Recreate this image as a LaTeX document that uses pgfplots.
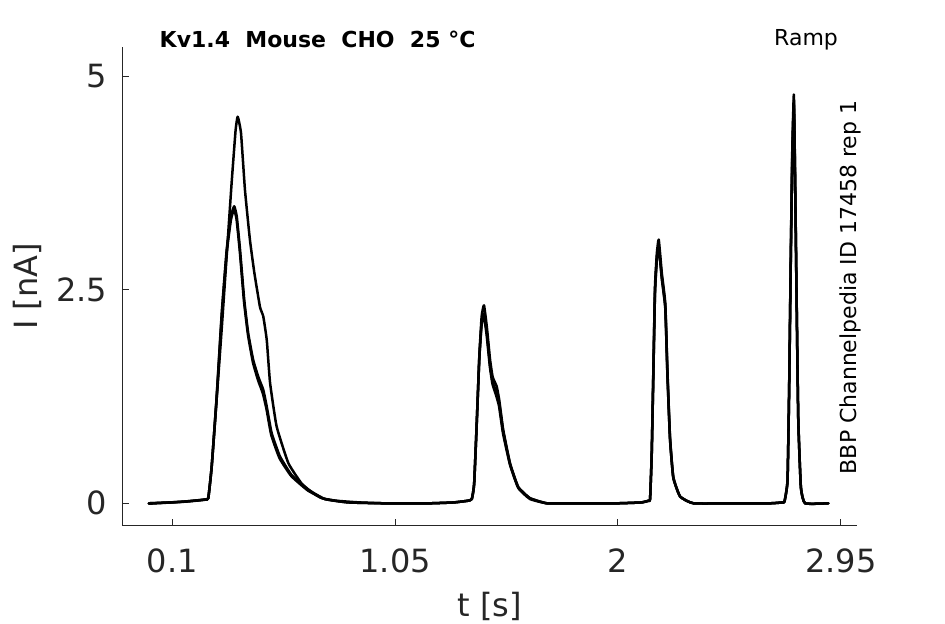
\documentclass[border=0pt]{standalone}
\usepackage{pgfplots}
\pgfplotsset{compat=1.18}
\usepackage{fontspec}
\setmainfont{DejaVu Sans}
\definecolor{axgray}{HTML}{262626}

\begin{document}
\begin{tikzpicture}
\useasboundingbox (0,0) rectangle (472.5pt,312pt);
\begin{axis}[
  at={(61.15pt,49pt)}, anchor=south west,
  scale only axis, width=367.2pt, height=239.65pt,
  xmin=-0.113, xmax=3.018, ymin=-0.266, ymax=5.35,
  axis x line*=bottom, axis y line*=left,
  axis line style={axgray, line width=0.5pt, -},
  xtick={0.1,1.05,2,2.95},
  ytick={0,2.5,5},
  /pgf/number format/assume math mode=true,
  tick align=inside, major tick length=3.5pt,
  tick style={axgray, line width=0.5pt},
  ticklabel style={font=\fontsize{16}{19}\selectfont, text=axgray},
  xticklabel style={anchor=north, inner sep=0pt, yshift=-11.15pt},
  yticklabel style={anchor=east, inner sep=0pt, xshift=-7.5pt},
  xlabel={t [s]}, ylabel={I [nA]},
  label style={font=\fontsize{16}{19}\selectfont, text=axgray, inner sep=0pt},
  xlabel style={at={(axis description cs:0.5,-0.1892)}, anchor=base},
  ylabel style={at={(axis description cs:-0.1291,0.5)}, anchor=center},
  cycle list={{black, no markers}},
  every axis plot post/.append style={black, line width=1.25pt, line join=round, line cap=round, smooth, tension=0.25},
]
% trace A (largest first peak)
\addplot coordinates {
(0,0.0) (0.05,0.005) (0.10,0.012) (0.15,0.02) (0.20,0.033) (0.24,0.045) (0.2535,0.06)
(0.268,0.43) (0.289,1.21) (0.311,2.05) (0.332,2.90) (0.353,3.75) (0.370,4.37) (0.379,4.53)
(0.393,4.34) (0.410,3.67) (0.431,3.09) (0.450,2.70) (0.474,2.30) (0.488,2.19) (0.503,1.91)
(0.517,1.41) (0.545,0.90) (0.595,0.47) (0.652,0.23) (0.70,0.12) (0.737,0.06) (0.80,0.03)
(0.90,0.01) (1.00,0.0) (1.10,0.0) (1.20,0.0) (1.30,0.01) (1.36,0.03) (1.377,0.05)
(1.387,0.23) (1.398,0.94) (1.409,1.72) (1.419,2.19) (1.429,2.32) (1.441,2.07) (1.455,1.68)
(1.466,1.48) (1.483,1.37) (1.494,1.21) (1.511,0.86) (1.540,0.47) (1.575,0.19) (1.625,0.06)
(1.697,0.0) (1.80,0.0) (1.90,0.0) (2.00,0.0) (2.10,0.01) (2.13,0.03) (2.137,0.05)
(2.144,0.59) (2.151,1.56) (2.158,2.54) (2.166,2.93) (2.174,3.09) (2.187,2.70) (2.202,2.34)
(2.211,1.56) (2.222,0.78) (2.236,0.31) (2.265,0.08) (2.322,0.0) (2.50,0.0) (2.65,0.0)
(2.70,0.01) (2.710,0.02) (2.723,0.27) (2.730,1.37) (2.737,2.93) (2.743,4.10) (2.750,4.79)
(2.755,3.91) (2.763,2.15) (2.769,0.98) (2.780,0.19) (2.798,0.0) (2.897,0.0)
};
% trace B
\addplot coordinates {
(0,-0.005) (0.05,0.003) (0.10,0.01) (0.15,0.018) (0.20,0.03) (0.24,0.042) (0.2535,0.06)
(0.268,0.43) (0.289,1.24) (0.311,2.23) (0.332,2.97) (0.350,3.36) (0.364,3.48) (0.375,3.36)
(0.389,2.97) (0.407,2.38) (0.424,1.99) (0.445,1.68) (0.467,1.48) (0.488,1.33) (0.503,1.13)
(0.524,0.82) (0.559,0.55) (0.609,0.33) (0.680,0.16) (0.751,0.05) (0.85,0.01) (1.00,0.0)
(1.10,0.0) (1.20,0.0) (1.30,0.01) (1.36,0.03) (1.377,0.05)
(1.387,0.23) (1.398,0.94) (1.409,1.70) (1.419,2.12) (1.429,2.22) (1.441,2.00) (1.455,1.62)
(1.466,1.42) (1.480,1.31) (1.494,1.17) (1.511,0.84) (1.540,0.46) (1.575,0.19) (1.625,0.06)
(1.697,0.0) (1.80,0.0) (1.90,0.0) (2.00,0.0) (2.10,0.01) (2.13,0.03) (2.137,0.05)
(2.144,0.57) (2.151,1.52) (2.158,2.48) (2.166,2.88) (2.174,3.02) (2.187,2.65) (2.202,2.30)
(2.211,1.52) (2.222,0.76) (2.236,0.30) (2.265,0.08) (2.322,0.0) (2.50,0.0) (2.65,0.0)
(2.70,0.01) (2.710,0.02) (2.723,0.27) (2.730,1.35) (2.737,2.88) (2.743,4.02) (2.750,4.72)
(2.755,3.86) (2.763,2.12) (2.769,0.96) (2.780,0.19) (2.798,0.0) (2.897,0.0)
};
% trace C
\addplot coordinates {
(0,0.0) (0.05,0.006) (0.10,0.011) (0.15,0.02) (0.20,0.032) (0.24,0.044) (0.2535,0.06)
(0.268,0.42) (0.289,1.22) (0.311,2.20) (0.332,2.93) (0.350,3.32) (0.363,3.44) (0.374,3.33)
(0.388,2.95) (0.406,2.36) (0.423,1.97) (0.444,1.65) (0.466,1.44) (0.486,1.29) (0.502,1.10)
(0.522,0.80) (0.557,0.53) (0.607,0.32) (0.678,0.15) (0.750,0.05) (0.85,0.01) (1.00,0.0)
(1.10,0.0) (1.20,0.0) (1.30,0.01) (1.36,0.03) (1.377,0.05)
(1.387,0.22) (1.398,0.92) (1.409,1.69) (1.419,2.10) (1.428,2.20) (1.440,1.98) (1.454,1.60)
(1.465,1.40) (1.479,1.28) (1.493,1.14) (1.510,0.82) (1.540,0.45) (1.575,0.18) (1.625,0.05)
(1.697,0.0) (1.80,0.0) (1.90,0.0) (2.00,0.0) (2.10,0.01) (2.13,0.03) (2.137,0.05)
(2.144,0.56) (2.151,1.50) (2.158,2.46) (2.166,2.86) (2.174,3.00) (2.187,2.63) (2.202,2.28)
(2.211,1.50) (2.222,0.75) (2.236,0.30) (2.265,0.08) (2.322,0.0) (2.50,0.0) (2.65,0.0)
(2.70,0.01) (2.710,0.02) (2.723,0.26) (2.730,1.33) (2.737,2.85) (2.743,3.98) (2.750,4.68)
(2.755,3.83) (2.763,2.10) (2.769,0.95) (2.780,0.18) (2.798,0.0) (2.897,0.0)
};
\end{axis}
\node[anchor=base west, inner sep=0pt, font=\bfseries\fontsize{11}{13}\selectfont] at (79.65pt,288.35pt) {Kv1.4\ \ Mouse\ \ CHO\ \ 25\ °C};
\node[anchor=base east, inner sep=0pt, font=\fontsize{11}{13}\selectfont] at (419.15pt,289pt) {Ramp};
\node[rotate=90, anchor=base, inner sep=0pt, font=\fontsize{11}{13}\selectfont] at (428.35pt,168.25pt) {BBP Channelpedia ID 17458 rep 1};
\end{tikzpicture}
\end{document}
